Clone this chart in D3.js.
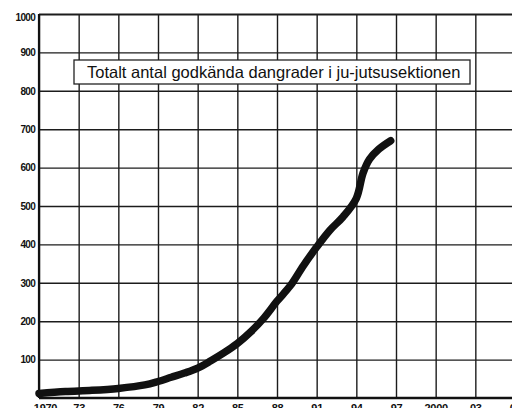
<!DOCTYPE html>
<html>
<head>
<meta charset="utf-8">
<script src="https://cdn.jsdelivr.net/npm/d3@7"></script>
<style>
    body { margin: 0; background: #fff; }
    svg { display: block; }
</style>
</head>
<body>
<div id="chart"></div>
<script>
// ******* DATA *******
const years  = [1970, 1972, 1974, 1976, 1978, 1979, 1980, 1981, 1982, 1983, 1984, 1985, 1986,
                1987, 1988, 1989, 1990, 1991, 1992, 1993, 1994, 1994.5, 1995, 1995.7, 1996.6];
const values = [12, 17, 20, 25, 34, 43, 54, 65, 78, 97, 118, 142, 172,
                208, 252, 292, 345, 393, 437, 472, 520, 585, 622, 648, 670];

const xTicks = [1970, 1973, 1976, 1979, 1982, 1985, 1988, 1991, 1994, 1997, 2000, 2003, 2006];
const xTickLabels = ["1970", "73", "76", "79", "82", "85", "88", "91", "94", "97", "2000", "03", "06"];
const yTicks = [100, 200, 300, 400, 500, 600, 700, 800, 900, 1000];

const title = "Totalt antal godkända dangrader i ju-jutsusektionen";

// ******* SETUP *******
const width = 512, height = 408;

const svg = d3.select("#chart").append("svg")
    .attr("width", width)
    .attr("height", height);

const x = d3.scaleLinear().domain([1970, 2006]).range([39, 515]);
const y = d3.scaleLinear().domain([0, 1000]).range([398, 14]);

// vertical grid + bottom labels (cut by the bottom edge, as in the scan)
const xAxis = svg.append("g")
    .attr("transform", `translate(0,${y(0)})`)
    .call(d3.axisBottom(x)
        .tickValues(xTicks)
        .tickSize(-(y(0) - y(1000)))
        .tickPadding(6)
        .tickFormat((d, i) => xTickLabels[i]));
xAxis.select(".domain").remove();
xAxis.selectAll(".tick line")
    .attr("stroke", "#1c1c1c")
    .attr("stroke-width", 1.4);
xAxis.selectAll(".tick text")
    .attr("fill", "#111")
    .attr("font-family", "Arial, 'Liberation Sans', sans-serif")
    .attr("font-weight", "bold")
    .attr("font-size", 11)
    .attr("letter-spacing", -0.3)
    .attr("dx", (d, i) => i === 0 ? 6 : 0);

// horizontal grid + left labels
const yAxis = svg.append("g")
    .attr("transform", `translate(${x(1970)},0)`)
    .call(d3.axisLeft(y)
        .tickValues(yTicks)
        .tickSize(-(width - x(1970)))
        .tickPadding(4)
        .tickFormat(d3.format("d")));
yAxis.select(".domain").remove();
yAxis.selectAll(".tick line")
    .attr("stroke", "#1c1c1c")
    .attr("stroke-width", d => d === 1000 ? 2 : 1.4);
yAxis.selectAll(".tick text")
    .attr("fill", "#111")
    .attr("font-family", "Arial, 'Liberation Sans', sans-serif")
    .attr("font-weight", "bold")
    .attr("font-size", 10)
    .attr("letter-spacing", -0.7)
    .attr("dy", d => d === 1000 ? "0.6em" : "0.32em");

// axis lines
svg.append("line")
    .attr("x1", x(1970)).attr("x2", x(1970))
    .attr("y1", y(1000)).attr("y2", y(0))
    .attr("stroke", "#111").attr("stroke-width", 2.2);
svg.append("line")
    .attr("x1", x(1970)).attr("x2", width)
    .attr("y1", y(0)).attr("y2", y(0))
    .attr("stroke", "#111").attr("stroke-width", 2.4);

// title box
const tg = svg.append("g");
tg.append("rect")
    .attr("x", 74).attr("y", 60)
    .attr("width", 396).attr("height", 24)
    .attr("fill", "#fff")
    .attr("stroke", "#222")
    .attr("stroke-width", 1.3);
tg.append("text")
    .attr("x", 87).attr("y", 77.5)
    .attr("font-family", "Arial, 'Liberation Sans', sans-serif")
    .attr("font-size", 16.5)
    .attr("fill", "#111")
    .text(title);

// data line
const data = years.map((yr, i) => ({ year: yr, value: values[i] }));
const line = d3.line()
    .x(d => x(d.year))
    .y(d => y(d.value))
    .curve(d3.curveCatmullRom.alpha(0.5));

svg.append("path")
    .datum(data)
    .attr("d", line)
    .attr("fill", "none")
    .attr("stroke", "#111")
    .attr("stroke-width", 7.5)
    .attr("stroke-linecap", "round")
    .attr("stroke-linejoin", "round");
</script>
</body>
</html>
